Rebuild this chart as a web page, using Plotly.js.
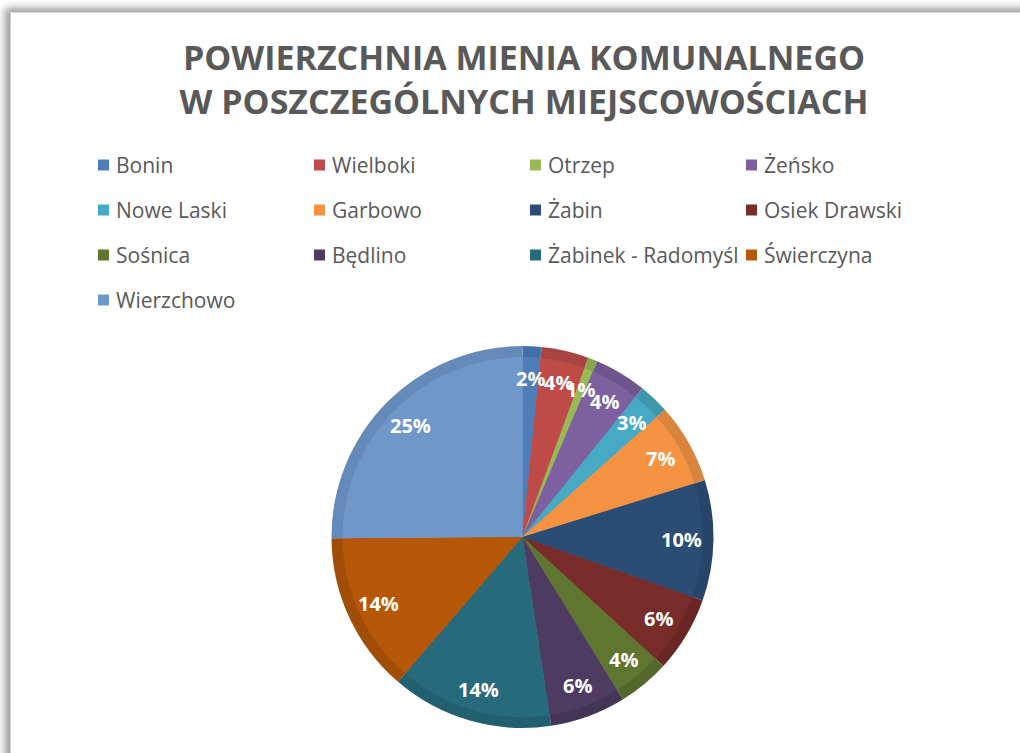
<!DOCTYPE html>
<html>
<head>
<meta charset="utf-8">
<script src="https://cdn.plot.ly/plotly-3.0.1.min.js"></script>
<style>
  html, body { margin:0; padding:0; background:#ffffff; width:1020px; height:753px; overflow:hidden; }
  #frame { position:absolute; left:10px; top:12px; width:1030px; height:760px; background:#ffffff;
           border-left:1px solid #d0d0d0; border-top:1px solid #d8d8d8;
           box-shadow:-5px -4px 8px rgba(0,0,0,0.40); }
  #chart { position:absolute; left:0; top:0; width:1020px; height:753px; }
</style>
</head>
<body>
<div id="frame"></div>
<div id="chart"></div>
<script>
// ---- data ----
const labels = ["Bonin","Wielboki","Otrzep","Żeńsko","Nowe Laski","Garbowo","Żabin","Osiek Drawski","Sośnica","Będlino","Żabinek - Radomyśl","Świerczyna","Wierzchowo"];
const values = [1.6, 4.0, 0.8, 4.4, 2.6, 6.8, 10.2, 6.4, 4.4, 6.4, 13.7, 13.6, 25.1];
const colors = ["#4F7DB8","#BE4B48","#98B954","#7D60A0","#46AAC5","#F59342","#2B4C75","#772C2A","#5F7530","#4D3B62","#276A7C","#B65708","#6F97CA"];
const edgeColors = ["#4470A8","#A84441","#88A54B","#6E558E","#3F97AE","#DA853D","#27446A","#692624","#53682A","#433556","#22606F","#A24D07","#638AB8"];

// ---- layout constants ----
const W = 1020, H = 753;
const cx = 522.5, cy = 537, R = 191, bevel = 11;
const px = x => x / W;
const py = y => 1 - y / H;

const total = values.reduce((a, b) => a + b, 0);

const basePie = {
  type: 'pie', labels: labels, values: values, sort: false, direction: 'clockwise', rotation: 0,
  marker: { colors: edgeColors, line: { width: 0 } },
  textinfo: 'none', hoverinfo: 'skip', showlegend: false,
  domain: { x: [px(cx - R), px(cx + R)], y: [py(cy + R), py(cy - R)] }
};
const r2 = R - bevel;
const topPie = {
  type: 'pie', labels: labels, values: values, sort: false, direction: 'clockwise', rotation: 0,
  marker: { colors: colors, line: { width: 0 } },
  textinfo: 'none', hoverinfo: 'label+percent', showlegend: false,
  domain: { x: [px(cx - r2), px(cx + r2)], y: [py(cy + r2), py(cy - r2)] }
};

const annotations = [];
const shapes = [];

// percentage labels, placed from the data's cumulative angles
let cum = 0;
values.forEach((v, i) => {
  const mid = (cum + v / 2) / total * 2 * Math.PI;
  cum += v;
  const rr = 0.83 * R;
  annotations.push({
    xref: 'paper', yref: 'paper',
    x: px(cx + rr * Math.sin(mid)), y: py(cy - rr * Math.cos(mid)),
    xanchor: 'center', yanchor: 'middle', showarrow: false,
    text: Math.round(v / total * 100) + '%',
    font: { family: 'Open Sans, sans-serif', size: 20, color: '#ffffff', weight: 'bold' }
  });
});

// legend (4 columns)
labels.forEach((lab, i) => {
  const col = i % 4, row = Math.floor(i / 4);
  const x0 = 98 + col * 216, yc = 165 + row * 45;
  shapes.push({
    type: 'rect', xref: 'paper', yref: 'paper',
    x0: px(x0), x1: px(x0 + 11), y0: py(yc + 5.5), y1: py(yc - 5.5),
    fillcolor: colors[i], line: { width: 0 }
  });
  annotations.push({
    xref: 'paper', yref: 'paper', x: px(x0 + 16), y: py(yc),
    xanchor: 'left', yanchor: 'middle', showarrow: false, text: lab,
    font: { family: 'Open Sans, sans-serif', size: 21, color: '#595959' }
  });
});

const layout = {
  width: W, height: H,
  margin: { l: 0, r: 0, t: 0, b: 0 },
  paper_bgcolor: 'rgba(0,0,0,0)', plot_bgcolor: 'rgba(0,0,0,0)',
  title: {
    text: 'POWIERZCHNIA MIENIA KOMUNALNEGO<br>W POSZCZEGÓLNYCH MIEJSCOWOŚCIACH',
    font: { family: 'Open Sans, sans-serif', size: 34, color: '#595959', weight: 'bold' },
    x: 524 / W, xanchor: 'center', y: 1 - 70 / H, yanchor: 'top', yref: 'container'
  },
  showlegend: false,
  annotations: annotations,
  shapes: shapes
};

Plotly.newPlot('chart', [basePie, topPie], layout, { displayModeBar: false, staticPlot: true });
</script>
</body>
</html>
